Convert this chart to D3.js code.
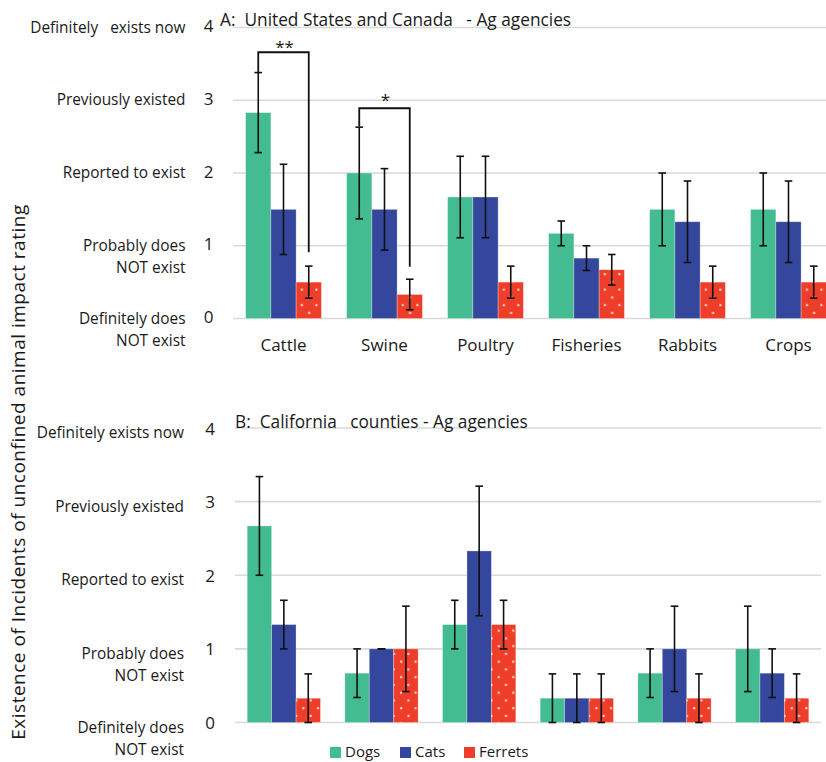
<!DOCTYPE html>
<html>
<head>
<meta charset="utf-8">
<script src="https://cdn.jsdelivr.net/npm/d3@7"></script>
<style>
  html, body { margin: 0; padding: 0; background: #fff; }
  svg { display: block; font-family: "Open Sans", "Noto Sans", sans-serif; }
  text { white-space: pre; }
</style>
</head>
<body>
<svg id="chart" width="826" height="762"></svg>
<script>
// ---------- data ----------
const categories = ["Cattle", "Swine", "Poultry", "Fisheries", "Rabbits", "Crops"];
const seriesNames = ["Dogs", "Cats", "Ferrets"];
const seriesColors = ["#43bc92", "#35479d", "#ee3e2a"];

const ratingTicks = [0, 1, 2, 3, 4];
const ratingLabelsA = [["Definitely does", "NOT exist"], ["Probably does", "NOT exist"], ["Reported to exist"], ["Previously existed"], ["Definitely   exists now"]];
const ratingLabelsB = [["Definitely does", "NOT exist"], ["Probably does", "NOT exist"], ["Reported to exist"], ["Previously existed"], ["Definitely exists now"]];

// Panel A: United States and Canada
const usDogs = [2.83, 2.0, 1.67, 1.17, 1.5, 1.5];
const usDogsErr = [0.55, 0.63, 0.56, 0.17, 0.5, 0.5];
const usCats = [1.5, 1.5, 1.67, 0.83, 1.33, 1.33];
const usCatsErr = [0.62, 0.56, 0.56, 0.17, 0.56, 0.56];
const usFerrets = [0.5, 0.33, 0.5, 0.67, 0.5, 0.5];
const usFerretsErr = [0.22, 0.21, 0.22, 0.21, 0.22, 0.22];

// Panel B: California counties
const caDogs = [2.67, 0.67, 1.33, 0.33, 0.67, 1.0];
const caDogsErr = [0.67, 0.33, 0.33, 0.33, 0.33, 0.58];
const caCats = [1.33, 1.0, 2.33, 0.33, 1.0, 0.67];
const caCatsErr = [0.33, 0.0, 0.88, 0.33, 0.58, 0.33];
const caFerrets = [0.33, 1.0, 1.33, 0.33, 0.33, 0.33];
const caFerretsErr = [0.33, 0.58, 0.33, 0.33, 0.33, 0.33];

// significance brackets (panel A)
const sigCats = ["Cattle", "Swine"];
const sigLabels = ["**", "*"];
const sigTop = [3.66, 2.89];
const sigLeftStart = [3.38, 2.64];
const sigRightEnd = [0.91, 0.71];

const titleA = "A:  United States and Canada   - Ag agencies";
const titleB = "B:  California   counties - Ag agencies";
const yTitle = "Existence of Incidents of unconfined animal impact rating";

// ---------- drawing ----------
const svg = d3.select("#chart");
const defs = svg.append("defs");
const pat = defs.append("pattern")
  .attr("id", "dots").attr("patternUnits", "userSpaceOnUse")
  .attr("width", 14.5).attr("height", 15.5);
pat.append("rect").attr("width", 14.5).attr("height", 15.5).attr("fill", seriesColors[2]);
pat.append("circle").attr("cx", 5.5).attr("cy", 3).attr("r", 1.2).attr("fill", "#fcd6cf");
pat.append("circle").attr("cx", 12.75).attr("cy", 10.75).attr("r", 1.2).attr("fill", "#fcd6cf");

const sigLabelShift = [1, -2];

function drawPanel(opt) {
  const g = svg.append("g");
  const y = d3.scaleLinear().domain([0, 4]).range([opt.y0, opt.y4]);
  const x0 = d3.scaleBand().domain(categories).range([opt.xLeft, opt.xRight]).paddingInner(0.25).paddingOuter(0.125);
  const x1 = d3.scaleBand().domain(seriesNames).range([0, x0.bandwidth()]);

  // gridlines
  g.append("g").selectAll("line").data(ratingTicks).join("line")
    .attr("x1", opt.xLeft).attr("x2", opt.gridRight)
    .attr("y1", d => y(d)).attr("y2", d => y(d))
    .attr("stroke", "#d9d9d9").attr("stroke-width", 1.6);

  // tick numbers
  g.append("g").selectAll("text").data(ratingTicks).join("text")
    .attr("x", opt.numX).attr("y", d => y(d) + opt.numOffset)
    .attr("text-anchor", "middle").attr("dominant-baseline", "middle")
    .attr("font-size", 17).attr("fill", "#1a1a1a").text(d => d);

  // rating labels
  const lab = g.append("g").selectAll("text").data(ratingTicks).join("text")
    .attr("text-anchor", "end").attr("font-size", 15.4).attr("fill", "#1a1a1a");
  lab.each(function(d, i) {
    const lines = opt.labels[i];
    d3.select(this).selectAll("tspan").data(lines).join("tspan")
      .attr("x", opt.labX)
      .attr("y", (l, j) => y(d) + opt.labOffset + j * 22)
      .attr("dominant-baseline", "middle")
      .text(l => l);
  });

  // bars
  const seriesVals = opt.values;
  const seriesErrs = opt.errors;
  const groups = g.append("g").selectAll("g").data(categories).join("g")
    .attr("transform", c => `translate(${x0(c)},0)`);
  groups.selectAll("rect").data((c, ci) => seriesNames.map((s, si) => ({ s, si, v: seriesVals[si][ci] })))
    .join("rect")
    .attr("x", d => x1(d.s)).attr("width", x1.bandwidth())
    .attr("y", d => y(d.v)).attr("height", d => y(0) - y(d.v))
    .attr("fill", d => d.si === 2 ? "url(#dots)" : seriesColors[d.si])
    .attr("stroke", "rgba(255,255,255,0.35)").attr("stroke-width", 0.8);

  // error bars
  const errs = groups.selectAll("g.err").data((c, ci) => seriesNames.map((s, si) => ({ s, v: seriesVals[si][ci], e: seriesErrs[si][ci] })))
    .join("g").attr("class", "err");
  const cx = d => x1(d.s) + x1.bandwidth() / 2;
  errs.append("line").attr("x1", cx).attr("x2", cx)
    .attr("y1", d => y(d.v + d.e)).attr("y2", d => y(Math.max(0, d.v - d.e)))
    .attr("stroke", "#111").attr("stroke-width", 1.6);
  errs.append("line").attr("x1", d => cx(d) - 3.8).attr("x2", d => cx(d) + 3.8)
    .attr("y1", d => y(d.v + d.e)).attr("y2", d => y(d.v + d.e))
    .attr("stroke", "#111").attr("stroke-width", 1.6);
  errs.append("line").attr("x1", d => cx(d) - 3.8).attr("x2", d => cx(d) + 3.8)
    .attr("y1", d => y(Math.max(0, d.v - d.e))).attr("y2", d => y(Math.max(0, d.v - d.e)))
    .attr("stroke", "#111").attr("stroke-width", 1.6);

  // category labels
  if (opt.showCats) {
    g.append("g").selectAll("text").data(categories).join("text")
      .attr("x", c => x0(c) + x0.bandwidth() / 2).attr("y", opt.catY)
      .attr("text-anchor", "middle").attr("dominant-baseline", "middle")
      .attr("font-size", 17).attr("fill", "#1a1a1a").text(c => c);
  }

  // title
  g.append("text").attr("x", opt.titleX).attr("y", opt.titleY)
    .attr("dominant-baseline", "middle").attr("font-size", 17.3).attr("fill", "#1a1a1a")
    .text(opt.title);

  // significance brackets
  if (opt.sig) {
    sigCats.forEach((c, i) => {
      const xl = x0(c) + x1("Dogs") + x1.bandwidth() / 2;
      const xr = x0(c) + x1("Ferrets") + x1.bandwidth() / 2;
      g.append("path")
        .attr("d", `M${xl},${y(sigLeftStart[i])}V${y(sigTop[i])}H${xr}V${y(sigRightEnd[i])}`)
        .attr("fill", "none").attr("stroke", "#111").attr("stroke-width", 1.8);
      g.append("text").attr("x", (xl + xr) / 2 + 1).attr("y", y(sigTop[i]) + sigLabelShift[i])
        .attr("text-anchor", "middle").attr("font-size", 17).attr("fill", "#1a1a1a")
        .text(sigLabels[i]);
    });
  }
}

drawPanel({
  y0: 318.5, y4: 27.5, xLeft: 233, xRight: 839, gridRight: 826,
  labels: ratingLabelsA, labOffset: 1, numOffset: 0, labX: 185.5, numX: 208.5,
  values: [usDogs, usCats, usFerrets], errors: [usDogsErr, usCatsErr, usFerretsErr],
  showCats: true, catY: 346, title: titleA, titleX: 220, titleY: 21, sig: true
});

drawPanel({
  y0: 722.5, y4: 428, xLeft: 235, xRight: 821, gridRight: 821,
  labels: ratingLabelsB, labOffset: 6, numOffset: 2, labX: 184, numX: 210,
  values: [caDogs, caCats, caFerrets], errors: [caDogsErr, caCatsErr, caFerretsErr],
  showCats: false, title: titleB, titleX: 235, titleY: 423, sig: false
});

// y axis title
svg.append("text")
  .attr("transform", "translate(20,472) rotate(-90)")
  .attr("text-anchor", "middle").attr("dominant-baseline", "middle")
  .attr("font-size", 19).attr("letter-spacing", 0.5).attr("fill", "#1a1a1a").text(yTitle);

// legend
const legendX = [330, 400, 464];
const leg = svg.append("g").selectAll("g").data(seriesNames).join("g")
  .attr("transform", (d, i) => `translate(${legendX[i]},747)`);
leg.append("rect").attr("width", 11).attr("height", 11)
  .attr("fill", (d, i) => seriesColors[i]);
leg.append("text").attr("x", 15).attr("y", 6).attr("dominant-baseline", "middle")
  .attr("font-size", 15).attr("fill", "#1a1a1a").text(d => d);
</script>
</body>
</html>
